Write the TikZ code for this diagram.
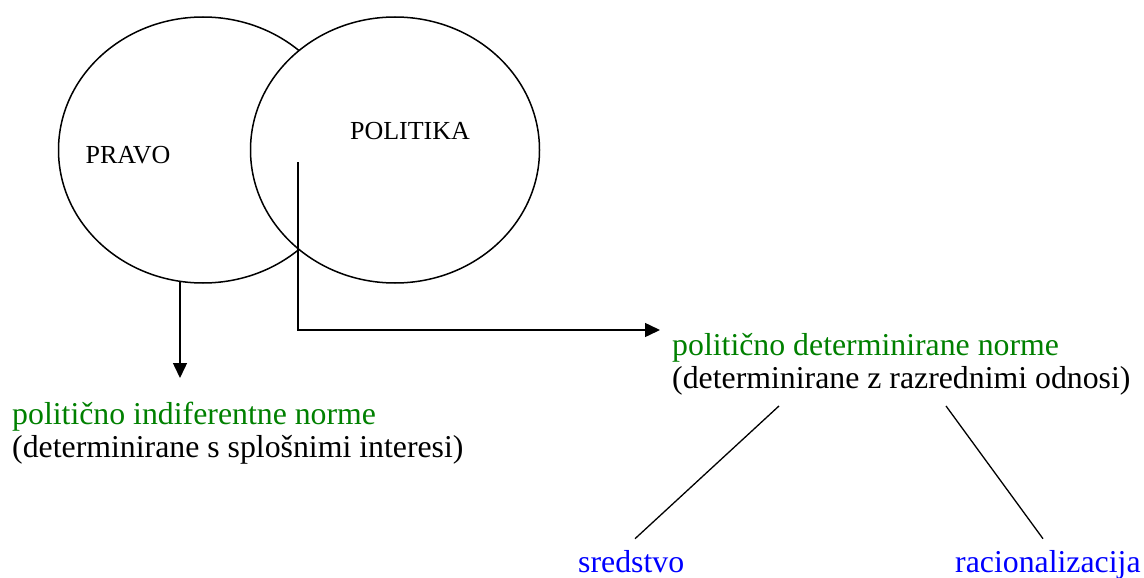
\documentclass[tikz,border=0pt]{standalone}
\usepackage{fontspec}
\setmainfont{Liberation Serif}
\usetikzlibrary{arrows.meta,positioning,shapes.geometric}
\definecolor{normgreen}{RGB}{0,128,0}
\definecolor{normblue}{RGB}{0,0,255}

\begin{document}
\begin{tikzpicture}[
  x=1pt, y=-1pt, >={Triangle[length=15pt,width=14pt]},
  field/.style={draw, ellipse, fill=white, line width=1.5pt, minimum width=289pt, minimum height=266pt, inner sep=0pt},
  fieldname/.style={font=\fontsize{26}{30}\selectfont, inner sep=0pt},
  norm/.style={font=\fontsize{31.8}{33}\selectfont, text=normgreen, inner sep=0pt, anchor=base west},
  basis/.style={font=\fontsize{31.8}{33}\selectfont, inner sep=0pt, anchor=base west},
  role/.style={font=\fontsize{31.8}{33}\selectfont, text=normblue, inner sep=0pt, anchor=base west},
  arrow/.style={->, line width=1.5pt},
  link/.style={line width=1.3pt}
]
\useasboundingbox (0,0) rectangle (1144,578);
\node[field] (pravo) at (203,150) {};
\node[field] (politika) at (395,150) {};
\node[fieldname] (pravoname) at (128,155) {PRAVO};
\node[fieldname] (politikaname) at (410,131) {POLITIKA};
\node[norm] (indif) at (12,424) {politično indiferentne norme};
\node[basis] (indifsub) at (12,457) {(determinirane s splošnimi interesi)};
\node[norm] (determ) at (672,355) {politično determinirane norme};
\node[basis] (determsub) at (672,388) {(determinirane z razrednimi odnosi)};
\node[role] (sredstvo) at (578,572) {sredstvo};
\node[role] (racio) at (955,572) {racionalizacija};
\coordinate (pravofoot) at (180,282);
\coordinate (indiftip) at (180,378);
\coordinate (politikaroot) at (298,162);
\coordinate (determtip) at (660,330);
\draw[arrow] (pravofoot) -- (indiftip);
\draw[arrow] (politikaroot) |- (determtip);
\draw[link] (determsub.south west) ++(107,11) -- ([xshift=57pt,yshift=11pt]sredstvo.north west);
\draw[link] (determsub.south west) ++(274,11) -- ([xshift=88pt,yshift=11pt]racio.north west);
\end{tikzpicture}
\end{document}
